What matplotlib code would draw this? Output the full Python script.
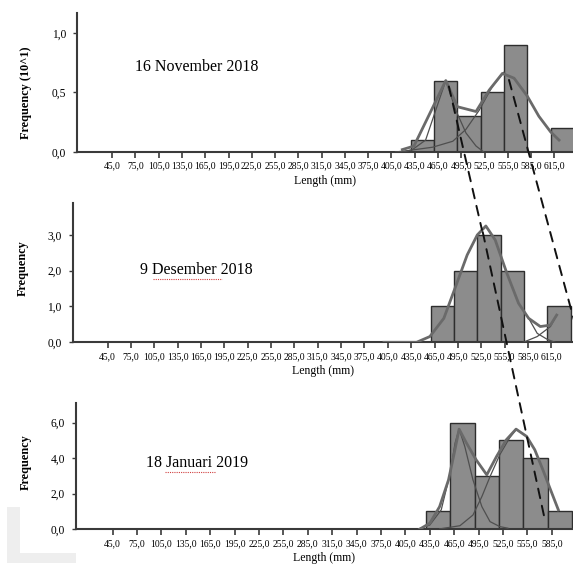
import matplotlib
matplotlib.use("Agg")
import matplotlib.pyplot as plt
from matplotlib.patches import ConnectionPatch, Rectangle

plt.rcParams["font.family"] = ["Liberation Serif", "DejaVu Serif"]

# length classes (left edges, mm), width 30 mm
bin_left = [430, 460, 490, 520, 550, 580, 610]
bin_width = 30

nov_freq = [0.1, 0.6, 0.3, 0.5, 0.9, 0.0, 0.2]
des_freq = [0.0, 1.0, 2.0, 3.0, 2.0, 0.0, 1.0]
jan_freq = [1.0, 6.0, 3.0, 5.0, 4.0, 1.0, 0.0]

# fitted curves (length mm, frequency)
nov_sum_x = [419, 434, 475, 490, 514, 531, 548, 563, 580, 595, 610, 621]
nov_sum_y = [0.02, 0.05, 0.60, 0.38, 0.34, 0.52, 0.66, 0.62, 0.47, 0.30, 0.17, 0.10]
nov_c1_x = [420, 432, 449, 462, 475, 488, 501, 514, 524]
nov_c1_y = [0.0, 0.02, 0.10, 0.35, 0.60, 0.35, 0.16, 0.05, 0.0]
nov_c2_x = [410, 424, 458, 484, 501, 518, 535, 550]
nov_c2_y = [0.0, 0.01, 0.04, 0.09, 0.19, 0.35, 0.55, 0.67]

des_sum_x = [400, 418, 442, 459, 477, 492, 507, 520, 531, 543, 558, 573, 586, 601, 614, 622]
des_sum_y = [0.0, 0.0, 0.0, 0.16, 0.67, 1.55, 2.44, 3.00, 3.25, 2.86, 1.93, 1.09, 0.67, 0.44, 0.48, 0.76]
des_c2_x = [586, 597, 610, 620]
des_c2_y = [0.67, 0.25, 0.08, 0.0]
des_c3_x = [579, 597, 614, 622]
des_c3_y = [0.0, 0.16, 0.44, 0.76]

jan_sum_x = [423, 435, 447, 458, 465, 471, 480, 492, 505, 517, 529, 541, 554, 564, 574, 585, 593]
jan_sum_y = [0.02, 0.34, 1.27, 2.78, 4.28, 5.63, 4.85, 3.90, 3.06, 4.09, 5.03, 5.63, 5.22, 4.47, 3.34, 2.03, 1.09]
jan_c1_x = [421, 435, 449, 460, 466, 471, 478, 488, 499, 509, 521, 531]
jan_c1_y = [0.02, 0.24, 1.09, 3.15, 4.84, 5.63, 4.65, 2.78, 1.27, 0.43, 0.15, 0.06]
jan_c2_x = [447, 472, 488, 499, 509, 521, 533, 541]
jan_c2_y = [0.02, 0.20, 0.80, 1.84, 2.96, 4.19, 5.13, 5.60]

x_ticks_long = list(range(45, 616, 30))   # 45 .. 615
x_ticks_short = list(range(45, 586, 30))  # 45 .. 585
dates = ["16 November 2018", "9 Desember 2018", "18 Januari 2019"]
y_labels = ["Frequency (10^1)", "Frequency", "Frequency"]
y_ticks = [[0.0, 0.5, 1.0], [0.0, 1.0, 2.0, 3.0], [0.0, 2.0, 4.0, 6.0]]

GREY_LINE = "#6a6a6a"
EDGE = "#3a3a3a"


def comma(v):
    return f"{v:.1f}".replace(".", ",")


fig = plt.figure(figsize=(5.73, 5.72), dpi=100)

# axes placement: [left, bottom, width, height], xlim right, ylim top
layout = [
    ([0.1349, 0.7343, 0.8651, 0.2435], 639, 1.17),
    ([0.1269, 0.4016, 0.8731, 0.2440], 643, 3.90),
    ([0.1326, 0.0747, 0.8674, 0.2208], 611, 7.10),
]
x_ticks = [x_ticks_long, x_ticks_long, x_ticks_short]
freqs = [nov_freq, des_freq, jan_freq]
sums = [(nov_sum_x, nov_sum_y), (des_sum_x, des_sum_y), (jan_sum_x, jan_sum_y)]
comps = [
    [(nov_c1_x, nov_c1_y), (nov_c2_x, nov_c2_y)],
    [(des_c2_x, des_c2_y), (des_c3_x, des_c3_y)],
    [(jan_c1_x, jan_c1_y), (jan_c2_x, jan_c2_y)],
]
title_pos = [(0.2415, 0.612), (0.248, 0.518), (0.243, 0.527)]
ylab_pos = [(-0.092, 0.424), (-0.087, 0.532), (-0.089, 0.535)]
# spell-check underline (fraction of date text width)
underline = [None, (0.11, 0.72), (0.19, 0.68)]

axes = []
for i, (rect, xmax, ymax) in enumerate(layout):
    ax = fig.add_axes(rect)
    axes.append(ax)
    ax.bar(bin_left, freqs[i], width=bin_width, align="edge",
           color="#8c8c8c", edgecolor="#2e2e2e", linewidth=1.0, zorder=2)
    for cx, cy in comps[i]:
        ax.plot(cx, cy, color="#4f4f4f", linewidth=0.9, zorder=3)
    ax.plot(sums[i][0], sums[i][1], color=GREY_LINE, linewidth=2.0, zorder=4)

    ax.set_xlim(0, xmax)
    ax.set_ylim(0, ymax)
    ax.set_xticks(x_ticks[i])
    ax.set_xticklabels([comma(v) for v in x_ticks[i]], fontsize=6.9)
    ax.set_yticks(y_ticks[i])
    ax.set_yticklabels([comma(v) for v in y_ticks[i]], fontsize=8.3)
    ax.tick_params(axis="x", length=4, width=1.2, color=EDGE, pad=3)
    ax.tick_params(axis="y", length=3, width=1.0, color=EDGE, pad=5)
    for s in ["top", "right"]:
        ax.spines[s].set_visible(False)
    for s in ["left", "bottom"]:
        ax.spines[s].set_color(EDGE)
        ax.spines[s].set_linewidth(1.5)

    ax.set_xlabel("Length (mm)", fontsize=8.5, labelpad=3)
    ax.set_ylabel(y_labels[i], fontsize=8.8, fontweight="bold")
    ax.yaxis.set_label_coords(*ylab_pos[i])

    t = ax.text(title_pos[i][0], title_pos[i][1], dates[i], transform=ax.transAxes,
                ha="center", va="center", fontsize=11.5)
    if underline[i] is not None:
        fig.canvas.draw()
        bb = t.get_window_extent().transformed(ax.transAxes.inverted())
        u0 = bb.x0 + underline[i][0] * bb.width
        u1 = bb.x0 + underline[i][1] * bb.width
        ax.plot([u0, u1], [bb.y0 - 0.01, bb.y0 - 0.01], transform=ax.transAxes,
                color="#d04040", linewidth=0.8, linestyle=(0, (1, 1)), clip_on=False)

ax1, ax2, ax3 = axes

# dashed lines linking the modes between sampling dates
links = [
    (ax1, (479, 0.55), ax2, (526, 3.14)),
    (ax2, (527, 3.08), ax3, (577, 0.41)),
    (ax1, (556.5, 0.605), ax2, (646, 0.48)),
]
for a, pa, b, pb in links:
    con = ConnectionPatch(xyA=pa, coordsA=a.transData, xyB=pb, coordsB=b.transData,
                          color="#111111", linewidth=1.4, linestyle=(0, (5, 4)), zorder=10)
    fig.add_artist(con)

# pale scan frame at lower left
fig.add_artist(Rectangle((7 / 573, 9 / 572), 13 / 573, 56 / 572, transform=fig.transFigure,
                         facecolor="#eeeeee", edgecolor="none"))
fig.add_artist(Rectangle((7 / 573, 9 / 572), 69 / 573, 10 / 572, transform=fig.transFigure,
                         facecolor="#eeeeee", edgecolor="none"))

fig.savefig("out.png", dpi=100)
